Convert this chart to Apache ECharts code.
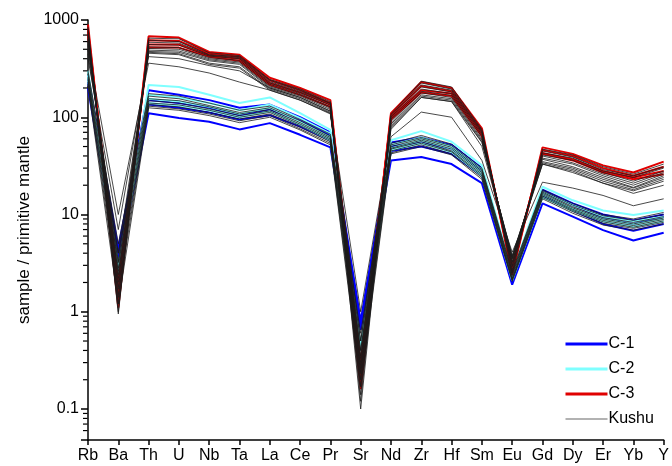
<!DOCTYPE html>
<html><head><meta charset="utf-8">
<script src="https://cdn.jsdelivr.net/npm/echarts@6/dist/echarts.min.js"></script>
<style>html,body{margin:0;padding:0;background:#fff}#c{width:672px;height:466px}</style>
</head><body><div id="c"></div>
<script>
const categories = ['Rb','Ba','Th','U','Nb','Ta','La','Ce','Pr','Sr','Nd','Zr','Hf','Sm','Eu','Gd','Dy','Er','Yb','Y'];
const majorTicks = [0.1, 1, 10, 100, 1000];
const minorTicks = [0.06,0.07,0.08,0.09,0.2,0.3,0.4,0.5,0.6,0.7,0.8,0.9,2,3,4,5,6,7,8,9,20,30,40,50,60,70,80,90,200,300,400,500,600,700,800,900];

// C-1 (blue)
const c1a = [200,3.0,110,98,90,75,87,66,49,0.65,36,39,33,21,1.9,13,9.5,6.9,5.4,6.5];
const c1b = [230,3.5,135,125,112,95,105,80,58,0.7,45,50,42,25,2.1,15.5,11,8.0,6.8,8.0];
const c1c = [250,4.0,150,140,125,105,120,92,65,0.75,50,55,47,28,2.2,17,12.5,9.2,8.0,9.5];
const c1d = [270,4.5,190,170,150,125,135,100,70,0.8,55,62,52,30,2.4,18,13,10,8.7,10];
// C-2 (cyan)
const c2a = [300,2.1,215,205,170,140,160,110,74,0.25,58,72,56,32,2.5,19.3,14,11,9.9,11];
const c2b = [270,2.5,170,160,140,118,135,98,68,0.35,52,62,50,29,2.3,17,12.5,9.5,8.5,9.5];
const c2c = [260,3.0,155,145,128,108,125,90,62,0.45,48,58,47,27,2.2,16,11.5,9.0,8.0,9.0];
const c2d = [240,2.8,140,132,118,100,115,84,58,0.3,46,54,44,25,2.1,15,11,8.5,7.5,8.5];
// C-3 (red)
const c3a = [900,1.1,680,660,470,440,255,200,150,0.2,110,230,200,77,2.4,49,42,32,27,35];
const c3b = [800,1.3,620,610,450,420,240,190,140,0.16,105,210,185,72,2.6,46,40,30,25,31];
const c3c = [750,1.6,560,560,430,400,225,180,135,0.25,100,190,175,68,2.8,43,37,28,24,28];
const c3d = [700,2.0,520,520,420,380,215,170,128,0.3,95,180,165,64,3.0,42,36,27,23,26];
// Kushu (black)
const k1 = [850,0.95,650,640,460,430,245,195,145,0.1,108,235,205,75,2.5,47,41,31,26,33];
const k2 = [800,1.0,620,600,440,420,240,190,140,0.12,104,225,195,73,2.7,45,39,29,25,31];
const k3 = [760,1.2,590,580,435,410,232,185,138,0.14,100,215,190,71,2.9,43,38,28,24,30];
const k4 = [720,1.4,560,550,425,400,225,180,133,0.17,96,205,182,69,3.0,41,36,27,22,28];
const k5 = [680,1.7,530,520,410,385,218,175,128,0.2,92,195,175,66,3.2,40,34,26,21,27];
const k6 = [640,2.0,510,500,400,370,210,170,124,0.23,88,185,168,63,3.3,38,33,25,20,26];
const k7 = [600,2.4,490,480,390,360,205,165,120,0.26,85,178,160,60,3.5,37,31,24,19,25];
const k8 = [560,2.8,475,465,380,350,200,160,116,0.3,82,170,155,58,3.6,35,30,23,18.7,24];
const k9 = [500,3.3,465,450,360,330,195,155,112,0.35,80,165,150,56,3.7,34,29,22,18,23];
const k10 = [450,4.0,455,440,350,320,190,150,108,0.4,78,160,145,55,3.8,33,28,21,17.5,22];
const k11 = [500,10,360,330,285,230,190,150,110,1.0,63,113,100,36,4.1,21.5,18.7,15.7,12.3,14.5];
const k12 = [400,7,420,400,340,300,200,160,115,0.5,75,160,145,50,3.5,33,27,21,16.5,20];
const k13 = [300,5,175,165,140,118,130,95,67,0.6,54,65,53,30,2.6,18,13,10,9,10.5];
const k14 = [280,4,165,155,132,112,125,92,64,0.5,52,62,51,29,2.5,17.5,12.5,9.7,8.7,10];
const k15 = [260,3.2,155,148,128,108,120,88,62,0.4,50,60,49,28,2.4,17,12,9.3,8.3,9.5];
const k16 = [250,2.6,148,140,122,104,116,85,60,0.33,48,58,47,27,2.3,16.5,11.7,9.0,8.0,9.2];
const k17 = [240,2.2,140,134,118,100,112,82,58,0.28,47,56,45,26,2.2,16,11.3,8.7,7.7,8.9];
const k18 = [230,1.8,135,128,112,96,108,79,56,0.24,45,54,44,25,2.15,15.5,11,8.4,7.4,8.6];
const k19 = [220,1.5,130,122,108,92,104,76,54,0.2,43,52,42,24,2.1,15,10.7,8.1,7.2,8.3];
const k20 = [210,1.2,125,118,104,88,100,74,52,0.17,42,50,41,23,2.05,14.5,10.3,7.8,6.9,8.0];

const groups = [
  {name:'C-1', color:'#0000ff', width:2, lines:[c1a,c1b,c1c,c1d]},
  {name:'C-2', color:'#7fffff', width:2, lines:[c2a,c2b,c2c,c2d]},
  {name:'C-3', color:'#e00000', width:2, lines:[c3a,c3b,c3c,c3d]},
  {name:'Kushu', color:'#1a1a1a', width:0.8, lines:[k1,k2,k3,k4,k5,k6,k7,k8,k9,k10,k11,k12,k13,k14,k15,k16,k17,k18,k19,k20]}
];
const series = [];
groups.forEach(g => g.lines.forEach(d => series.push({
  name:g.name, type:'line', data:d, symbol:'none', silent:true,
  lineStyle:{color:g.color, width:g.width}, itemStyle:{color:g.color}
})));

// minor tick marks of the log axis, placed through the axis scale
series.push({
  name:'minorTicks', type:'custom', silent:true, clip:false, z:10,
  data:minorTicks.map(v => [0, v]),
  encode:{x:0, y:1},
  renderItem:function (params, api) {
    const p = api.coord([api.value(0), api.value(1)]);
    return {type:'rect', shape:{x:p[0] - 5, y:p[1] - 0.6, width:4.5, height:1.2},
            style:{fill:'#000'}};
  }
});

const yMin = 0.048, yMax = 1000;
const font = 'Liberation Sans, Arial, sans-serif';
const chart = echarts.init(document.getElementById('c'), null, {renderer:'canvas'});
chart.setOption({
  animation:false,
  backgroundColor:'#fff',
  grid:{left:88, right:7, top:20, bottom:26, containLabel:false},
  legend:{
    data:[
      {name:'C-1', lineStyle:{width:3}},
      {name:'C-2', lineStyle:{width:3}},
      {name:'C-3', lineStyle:{width:3}},
      {name:'Kushu', lineStyle:{width:1.2, color:'#666'}}
    ],
    orient:'vertical', left:559, top:331,
    itemWidth:42, itemHeight:14, itemGap:9,
    itemStyle:{opacity:0},
    textStyle:{fontFamily:font, fontSize:16, color:'#000', padding:[0,0,0,-4]}
  },
  xAxis:{
    type:'category', data:categories, boundaryGap:false,
    axisLine:{lineStyle:{color:'#000', width:1.5}},
    axisTick:{show:true, inside:false, length:5, lineStyle:{color:'#000', width:1.5}},
    axisLabel:{fontFamily:font, fontSize:16, color:'#000', margin:8, interval:0},
    splitLine:{show:false}
  },
  yAxis:{
    type:'log', logBase:10, min:yMin, max:yMax,
    name:'sample / primitive mantle', nameLocation:'middle', nameGap:45, nameRotate:90,
    nameTextStyle:{fontFamily:font, fontSize:17, color:'#000'},
    axisLine:{show:true, lineStyle:{color:'#000', width:1.5}},
    axisTick:{show:true, length:7, lineStyle:{color:'#000', width:1.5}},
    axisLabel:{fontFamily:font, fontSize:16, color:'#000', margin:9,
      formatter:v => { const l = Math.log10(v); return majorTicks.some(t => Math.abs(Math.log10(t) - l) < 1e-6) ? String(v) : ''; }},
    splitLine:{show:false}
  },
  series:series
});
</script></body></html>
